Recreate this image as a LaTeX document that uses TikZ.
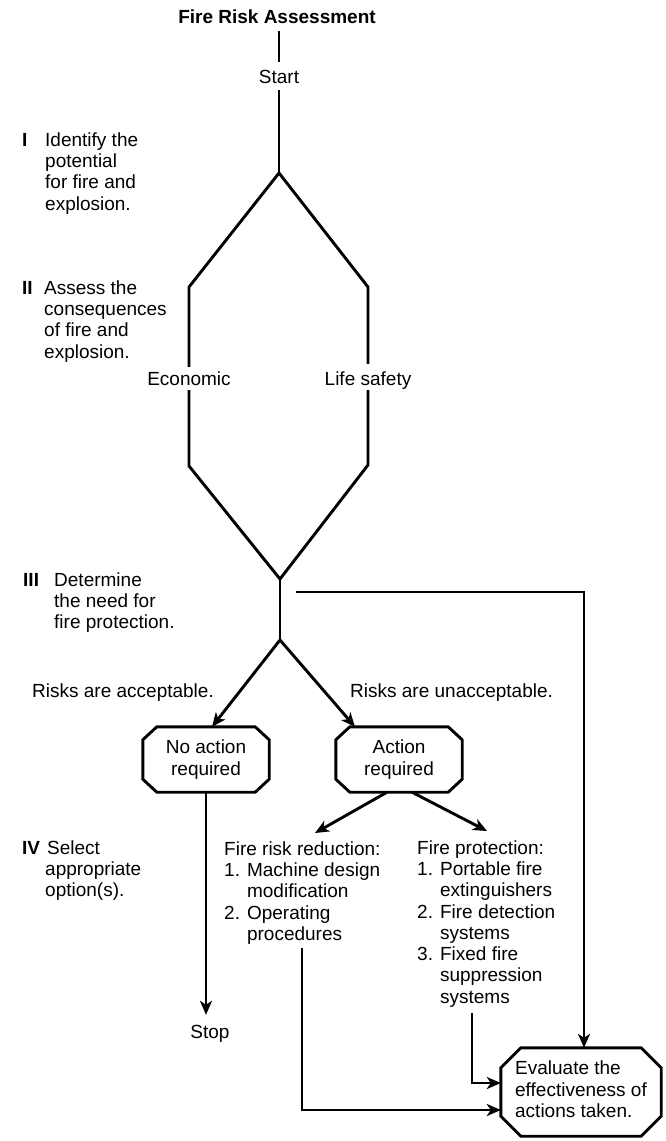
\documentclass[tikz,border=0pt]{standalone}
\usepackage{fontspec}
\setmainfont{Liberation Sans}
\usetikzlibrary{arrows.meta}
\newcommand\octpath[3]{%
  \draw[ln] ([xshift=#2]#1.north west) -- ([xshift=-#2]#1.north east) -- ([yshift=-#3]#1.north east) -- ([yshift=#3]#1.south east) -- ([xshift=-#2]#1.south east) -- ([xshift=#2]#1.south west) -- ([yshift=#3]#1.south west) -- ([yshift=-#3]#1.north west) -- cycle;}
\begin{document}
\begin{tikzpicture}[x=1pt,y=-1pt,
  ln/.style={line width=2.9pt, line join=miter},
  arr/.style={ln, -{Stealth[length=14pt,width=12pt,inset=4pt]}},
  txt/.style={font=\fontsize{19}{21.3}\selectfont, inner sep=0pt},
  bf/.style={font=\fontsize{19}{21.3}\selectfont\bfseries, inner sep=0pt},
  lbl/.style={txt, text height=14pt, text depth=4pt},
  octbox/.style={txt, align=center, minimum width=126pt, minimum height=65pt}
]
\useasboundingbox (0,0) rectangle (666,1141);

% title and start
\node[bf, text height=14pt, text depth=4pt] (title) at (277,18) {Fire Risk Assessment};
\node[lbl] (start) at (279,78) {Start};
\draw[ln, shorten <=4pt, shorten >=7pt] (title.south -| start.north) -- (start.north);

% diamond
\coordinate (dtop) at (279,173);
\coordinate (dl1) at (189,287);
\coordinate (dr1) at (368,287);
\coordinate (dl2) at (189,466);
\coordinate (dr2) at (368,465);
\coordinate (dbot) at (280,579);
\coordinate (split) at (280,640);
\coordinate (hstart) at (296,592);
\node[lbl] (econ) at (189,380) {Economic};
\node[lbl] (life) at (368,380) {Life safety};

\draw[ln, shorten <=3pt] (start.south) -- (dtop);
\draw[ln, shorten <=4pt, shorten >=7pt] (econ.north) -- (dl1) -- (dtop) -- (dr1) -- (life.north);
\draw[ln, shorten <=1pt, shorten >=1pt] (econ.south) -- (dl2) -- (dbot) -- (dr2) -- (life.south);
\draw[ln] (dbot) -- (split);

% left column stage labels
\node[bf, anchor=base west] (n1) at (22,146) {I};
\node[txt, anchor=north west] (s1) at (45,131) {\begin{tabular}{@{}l@{}}Identify the\\potential\\for fire and\\explosion.\end{tabular}};
\node[bf, anchor=base west] (n2) at (22,294) {II};
\node[txt, anchor=north west] (s2) at (44,279) {\begin{tabular}{@{}l@{}}Assess the\\consequences\\of fire and\\explosion.\end{tabular}};
\node[bf, anchor=base west] (n3) at (23,586) {III};
\node[txt, anchor=north west] (s3) at (54,571) {\begin{tabular}{@{}l@{}}Determine\\the need for\\fire protection.\end{tabular}};
\node[bf, anchor=base west] (n4) at (22,854) {IV};
\node[txt, anchor=north west] (s4) at (45,839) {\begin{tabular}{@{}l@{}}\hspace{2pt}Select\\appropriate\\option(s).\end{tabular}};

% risk labels
\node[lbl, anchor=west] (acc) at (32,692) {Risks are acceptable.};
\node[lbl, anchor=west] (unacc) at (350,692) {Risks are unacceptable.};

% octagons
\node[octbox] (noact) at (206,759.5) {No action\\required};
\node[octbox] (act) at (399,759.5) {Action\\required};
\octpath{noact}{14pt}{13pt}
\octpath{act}{14pt}{13pt}

\node[txt, minimum width=160pt, minimum height=88pt] (eval) at (581,1092) {\begin{tabular}{@{}l@{}}Evaluate the\\effectiveness of\\actions taken.\end{tabular}};
\octpath{eval}{20pt}{20pt}

\draw[arr] (split) -- ([xshift=6pt]noact.north);
\draw[arr] (split) -- ([xshift=-44pt]act.north);
\draw[arr] (hstart) -| ([xshift=3pt]eval.north);

% option lists
\node[txt, anchor=north west] (frr) at (224,840) {\begin{tabular}{@{}l@{}}Fire risk reduction:\\1. Machine design\\\phantom{1. }modification\\2. Operating\\\phantom{2. }procedures\end{tabular}};
\node[txt, anchor=north west] (fp) at (417,839) {\begin{tabular}{@{}l@{}}Fire protection:\\1. Portable fire\\\phantom{1. }extinguishers\\2. Fire detection\\\phantom{2. }systems\\3. Fixed fire\\\phantom{3. }suppression\\\phantom{3. }systems\end{tabular}};

\draw[arr] ([xshift=-12pt]act.south) -- ([xshift=91pt,yshift=7pt]frr.north west);
\draw[arr] ([xshift=13pt]act.south) -- ([xshift=70pt,yshift=8pt]fp.north west);

% stop
\node[lbl] (stop) at (210,1033) {Stop};
\draw[arr, shorten >=9pt] (noact.south) -- (noact.south |- stop.north);

% to evaluate
\draw[arr, shorten <=1.5pt] ([xshift=78pt]frr.south west) |- ([yshift=-18pt]eval.west);
\draw[arr, shorten <=3.5pt] ([xshift=55pt]fp.south west) |- ([yshift=9pt]eval.west);
\end{tikzpicture}
\end{document}
